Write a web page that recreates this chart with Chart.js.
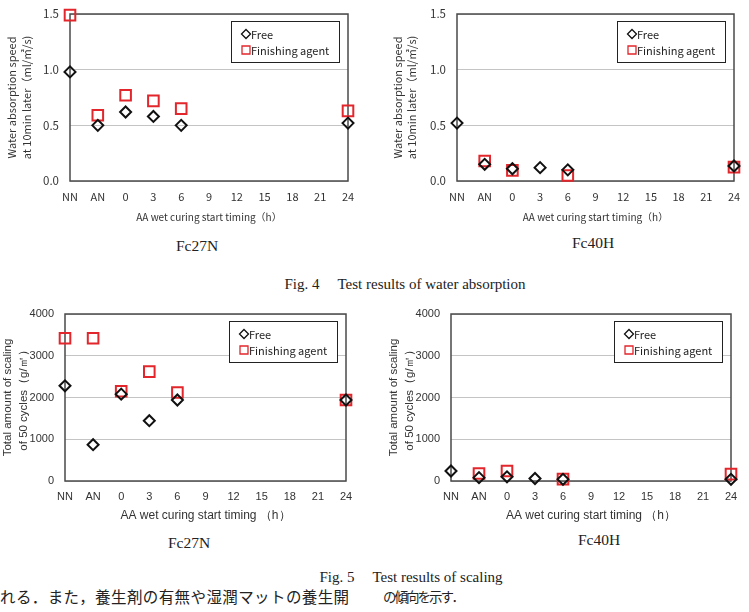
<!DOCTYPE html>
<html>
<head>
<meta charset="utf-8">
<script src="https://cdn.jsdelivr.net/npm/chart.js@4.4.0/dist/chart.umd.min.js"></script>
<style>
  body { margin: 0; background: #fff; }
  #page { position: relative; width: 749px; height: 612px; overflow: hidden; }
  canvas { position: absolute; }
  .lbl { position: absolute; transform: translate(-50%, -50%); white-space: nowrap;
         font-family: "Liberation Serif", serif; color: #222; }
  .jp { position: absolute; white-space: nowrap; font-family: "Noto Sans CJK JP", sans-serif;
        color: #222; transform: translateY(-50%); }
</style>
</head>
<body>
<div id="page">
  <canvas id="c1" width="370" height="230" style="left:0;top:0"></canvas>
  <canvas id="c2" width="374" height="230" style="left:375px;top:0"></canvas>
  <canvas id="c3" width="370" height="230" style="left:0;top:300px"></canvas>
  <canvas id="c4" width="374" height="230" style="left:375px;top:300px"></canvas>

  <div class="lbl" style="left:197px;top:246px;font-size:15.5px">Fc27N</div>
  <div class="lbl" style="left:593px;top:243px;font-size:15.5px">Fc40H</div>
  <div class="lbl" style="left:405px;top:284px;font-size:15px">Fig. 4<span style="margin-left:18px">Test results of water absorption</span></div>
  <div class="lbl" style="left:189px;top:543px;font-size:15.5px">Fc27N</div>
  <div class="lbl" style="left:599px;top:540px;font-size:15.5px">Fc40H</div>
  <div class="lbl" style="left:411px;top:577px;font-size:15px">Fig. 5<span style="margin-left:18px">Test results of scaling</span></div>
  <div class="jp" style="left:0;top:596px;font-size:15.5px;letter-spacing:0.4px">れる．また，養生剤の有無や湿潤マットの養生開</div>
  <div class="jp" style="left:383px;top:596px;font-size:13.5px;letter-spacing:-2px">の傾向を示す．</div>
</div>
<script>
// x positions (AA wet curing start timing)
const categories = ['NN', 'AN', '0', '3', '6', '9', '12', '15', '18', '21', '24'];

// Fig. 4 water absorption speed (ml/m2/s)
const waterFc27NFree  = [0.98, 0.50, 0.62, 0.58, 0.50, null, null, null, null, null, 0.52];
const waterFc27NAgent = [1.49, 0.59, 0.77, 0.72, 0.65, null, null, null, null, null, 0.63];
const waterFc40HFree  = [0.52, 0.15, 0.11, 0.12, 0.10, null, null, null, null, null, 0.135];
const waterFc40HAgent = [null, 0.18, 0.095, null, 0.05, null, null, null, null, null, 0.125];

// Fig. 5 total amount of scaling (g/m2)
const scalingFc27NFree  = [2280, 870, 2080, 1445, 1940, null, null, null, null, null, 1940];
const scalingFc27NAgent = [3420, 3420, 2150, 2620, 2120, null, null, null, null, null, 1940];
const scalingFc40HFree  = [240, 80, 100, 60, 40, null, null, null, null, null, 40];
const scalingFc40HAgent = [null, 180, 240, null, 45, null, null, null, null, null, 165];

const waterTicks = [0, 0.5, 1.0, 1.5];
const scalingTicks = [0, 1000, 2000, 3000, 4000];

const JP = "'Noto Sans CJK JP', sans-serif";
const ARIAL = "'Liberation Sans', Arial, sans-serif";

// plot frame + legend box inside the plot
const frameLegend = {
  id: 'frameLegend',
  beforeDatasetsDraw(chart) {
    const { ctx, chartArea: a } = chart;
    ctx.save();
    ctx.strokeStyle = '#4a4a4a';
    ctx.lineWidth = 1.5;
    ctx.strokeRect(a.left, a.top, a.right - a.left, a.bottom - a.top);
    ctx.restore();
  },
  afterDraw(chart) {
    const { ctx, chartArea: a } = chart;
    const w = 108, h = 41;
    const x = Math.round(a.right - 9 - w), y = Math.round(a.top + 7);
    ctx.save();
    ctx.fillStyle = '#fff';
    ctx.fillRect(x, y, w, h);
    ctx.strokeStyle = '#222';
    ctx.lineWidth = 1;
    ctx.strokeRect(x + 0.5, y + 0.5, w, h);
    chart.data.datasets.forEach((ds, i) => {
      const cx = x + 15, cy = y + 13 + i * 16;
      ctx.beginPath();
      if (ds.pointStyle === 'rectRot') {
        const r = 4.5;
        ctx.moveTo(cx, cy - r); ctx.lineTo(cx + r, cy); ctx.lineTo(cx, cy + r); ctx.lineTo(cx - r, cy); ctx.closePath();
      } else {
        ctx.rect(cx - 4, cy - 4, 8, 8);
      }
      ctx.strokeStyle = ds.pointBorderColor;
      ctx.lineWidth = 1.3;
      ctx.stroke();
      ctx.fillStyle = '#222';
      ctx.font = '11px ' + JP;
      ctx.textBaseline = 'middle';
      ctx.fillText(ds.label, x + 20, cy + 0.5);
    });
    ctx.restore();
  }
};

function makeChart(id, free, agent, cfg) {
  const canvas = document.getElementById(id);
  return new Chart(canvas, {
    type: 'line',
    data: {
      labels: categories,
      datasets: [
        { label: 'Free', data: free, showLine: false, clip: false,
          pointStyle: 'rectRot', pointRadius: 5.5, pointBorderWidth: 2,
          pointBorderColor: '#111', pointBackgroundColor: 'rgba(0,0,0,0)' },
        { label: 'Finishing agent', data: agent, showLine: false, clip: false,
          pointStyle: 'rect', pointRadius: 7.5, pointBorderWidth: 2,
          pointBorderColor: '#e2262b', pointBackgroundColor: 'rgba(0,0,0,0)' }
      ]
    },
    options: {
      responsive: false,
      animation: false,
      layout: { autoPadding: false, padding: { left: 0, top: 14, right: canvas.width - cfg.right, bottom: 0 } },
      plugins: { legend: { display: false }, tooltip: { enabled: false } },
      scales: {
        x: {
          type: 'category',
          offset: false,
          grid: { display: false, drawTicks: false },
          border: { display: false },
          ticks: { color: '#333', padding: cfg.xPad, font: { family: cfg.font, size: 11 }, autoSkip: false, maxRotation: 0 },
          title: { display: true, text: cfg.xTitle, color: '#333',
                   font: { family: cfg.font, size: cfg.xTitleSize }, padding: { top: 0, bottom: 7 } },
          afterFit: (s) => { s.height = 49; s.paddingLeft = 0; s.paddingRight = 0; }
        },
        y: {
          min: cfg.ticks[0],
          max: cfg.ticks[cfg.ticks.length - 1],
          afterBuildTicks: (s) => { s.ticks = cfg.ticks.map(v => ({ value: v })); },
          grid: { color: '#c4c4c4', lineWidth: 1, drawTicks: false },
          border: { display: false },
          ticks: { color: '#333', padding: 11, font: { family: cfg.font, size: cfg.yTickSize }, callback: cfg.fmt },
          title: { display: true, text: cfg.yTitle, color: '#333',
                   font: { family: cfg.font, size: cfg.yTitleSize, lineHeight: cfg.yLine }, padding: { top: cfg.yTitlePad, bottom: 0 } },
          afterFit: (s) => { s.width = cfg.left; s.paddingTop = 0; s.paddingBottom = 0; }
        }
      }
    },
    plugins: [frameLegend]
  });
}

const waterFmt = (v) => Number(v).toFixed(1);
const scalingFmt = (v) => String(v);
const waterTitle = ['Water absorption speed', 'at 10min later（ml/㎡/s)'];
const scalingTitle = ['Total amount of scaling', 'of 50 cycles（g/㎡）'];

makeChart('c1', waterFc27NFree, waterFc27NAgent, {
  left: 70, right: 348, font: JP, ticks: waterTicks, fmt: waterFmt, xPad: 9, yTickSize: 11.5,
  xTitle: 'AA wet curing start timing（h）', xTitleSize: 10,
  yTitle: waterTitle, yTitleSize: 11, yLine: 1.3, yTitlePad: 5
});
makeChart('c2', waterFc40HFree, waterFc40HAgent, {
  left: 82, right: 359, font: JP, ticks: waterTicks, fmt: waterFmt, xPad: 9, yTickSize: 11.5,
  xTitle: 'AA wet curing start timing（h）', xTitleSize: 10,
  yTitle: waterTitle, yTitleSize: 11, yLine: 1.35, yTitlePad: 15
});
makeChart('c3', scalingFc27NFree, scalingFc27NAgent, {
  left: 65, right: 346, font: ARIAL, ticks: scalingTicks, fmt: scalingFmt, xPad: 9, yTickSize: 11,
  xTitle: 'AA wet curing start timing （h）', xTitleSize: 12,
  yTitle: scalingTitle, yTitleSize: 11.5, yLine: 1.4, yTitlePad: 0
});
makeChart('c4', scalingFc40HFree, scalingFc40HAgent, {
  left: 76, right: 356, font: ARIAL, ticks: scalingTicks, fmt: scalingFmt, xPad: 9, yTickSize: 11,
  xTitle: 'AA wet curing start timing （h）', xTitleSize: 12,
  yTitle: scalingTitle, yTitleSize: 11.5, yLine: 1.45, yTitlePad: 10
});
</script>
</body>
</html>
